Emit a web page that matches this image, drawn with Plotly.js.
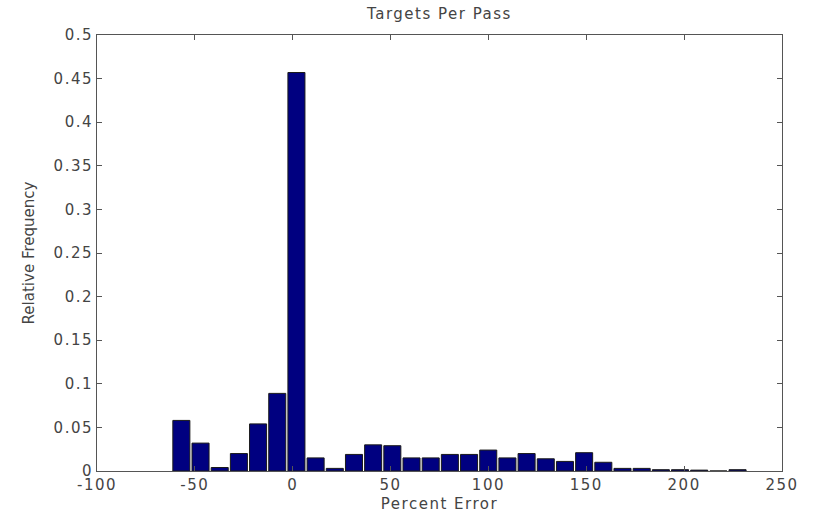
<!DOCTYPE html>
<html>
<head>
<meta charset="utf-8">
<script src="https://cdn.plot.ly/plotly-3.0.1.min.js"></script>
<style>
html,body{margin:0;padding:0;background:#fff;}
#chart{width:817px;height:518px;}
.xtick text, .ytick text, .gtitle, .g-xtitle text { letter-spacing: 1.5px; }
</style>
</head>
<body>
<div id="chart"></div>
<script>
// Bin centres (Percent Error)
const binCenters = [-56.9, -47.1, -37.3, -27.5, -17.7, -7.9, 1.9, 11.7, 21.5, 31.3,
  41.1, 50.9, 60.7, 70.5, 80.3, 90.1, 99.9, 109.7, 119.5, 129.3,
  139.1, 148.9, 158.7, 168.5, 178.3, 188.1, 197.9, 207.7, 217.5, 227.3];
// Relative frequency per bin
const relFreq = [0.058, 0.032, 0.004, 0.020, 0.054, 0.089, 0.457, 0.015, 0.003, 0.019,
  0.030, 0.029, 0.015, 0.015, 0.019, 0.019, 0.024, 0.015, 0.020, 0.014,
  0.011, 0.021, 0.010, 0.003, 0.003, 0.0015, 0.0015, 0.001, 0, 0.0015];
const xTicks = [-100, -50, 0, 50, 100, 150, 200, 250];
const xTickText = ['-100', '-50', '0', '50', '100', '150', '200', '250'];
const yTicks = [0, 0.05, 0.1, 0.15, 0.2, 0.25, 0.3, 0.35, 0.4, 0.45, 0.5];
const yTickText = ['0', '0.05', '0.1', '0.15', '0.2', '0.25', '0.3', '0.35', '0.4', '0.45', '0.5'];

const trace = {
  type: 'bar',
  x: binCenters,
  y: relFreq,
  width: 8.7,
  marker: {color: '#000080', line: {color: '#1a1a1a', width: 1}},
  hoverinfo: 'x+y'
};

const axisCommon = {
  showline: true, linecolor: '#555', linewidth: 1,
  mirror: 'ticks', ticks: 'inside', ticklen: 5, tickcolor: '#555',
  showgrid: false, zeroline: false,
  tickfont: {family: 'DejaVu Sans', size: 15, color: '#444'}
};

const layout = {
  width: 817, height: 518,
  margin: {l: 97, r: 35, t: 35, b: 47},
  paper_bgcolor: '#fff', plot_bgcolor: '#fff',
  showlegend: false,
  title: {text: 'Targets Per Pass', font: {family: 'DejaVu Sans', size: 15, color: '#444'},
    x: 0.5, xref: 'paper', xanchor: 'center', y: 1 - 14/518, yref: 'container', yanchor: 'middle'},
  xaxis: Object.assign({}, axisCommon, {
    range: [-100, 250], tickmode: 'array', tickvals: xTicks, ticktext: xTickText,
    title: {text: 'Percent Error', font: {family: 'DejaVu Sans', size: 15, color: '#444'}, standoff: 5}
  }),
  yaxis: Object.assign({}, axisCommon, {
    range: [0, 0.5], tickmode: 'array', tickvals: yTicks, ticktext: yTickText,
    title: {text: 'Relative Frequency', font: {family: 'DejaVu Sans', size: 15, color: '#444'}, standoff: 15}
  })
};

Plotly.newPlot('chart', [trace], layout, {displayModeBar: false, staticPlot: true});
</script>
</body>
</html>
